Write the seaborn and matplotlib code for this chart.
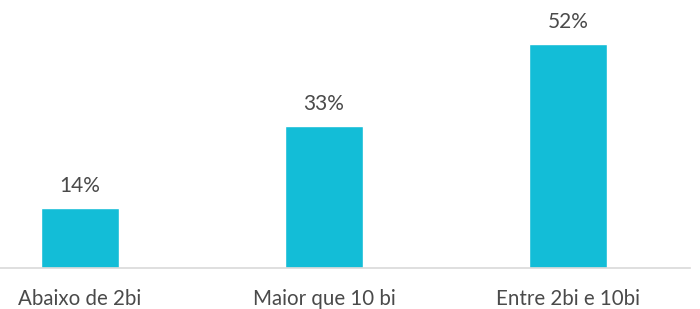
import numpy as np
import pandas as pd
import seaborn as sns
import matplotlib.pyplot as plt

categories = ['Abaixo de 2bi', 'Maior que 10 bi', 'Entre 2bi e 10bi']
values = [14, 33, 52]
labels = ['14%', '33%', '52%']

df = pd.DataFrame({'faixa': categories, 'pct': values})

sns.set_theme(style='white')
plt.rcParams['font.family'] = ['Lato', 'DejaVu Sans']

fig = plt.figure(figsize=(7, 3.09), dpi=100)
ax = fig.add_axes([0, 41 / 309, 690 / 700, (268 - 9.4) / 309])

sns.barplot(data=df, x='faixa', y='pct', color='#13BDD7', width=0.316,
            saturation=1, ax=ax)

for i, (v, lab) in enumerate(zip(values, labels)):
    ax.text(i, v + 5.0, lab, ha='center', va='center', fontsize=15, color='#4a4a4a')

ax.set_xlim(-0.328, 2.5)
ax.set_ylim(0, 60)
ax.set_xlabel('')
ax.set_ylabel('')
ax.set_yticks([])
for s in ['top', 'right', 'left']:
    ax.spines[s].set_visible(False)
ax.spines['bottom'].set_color('#d9d9d9')
ax.spines['bottom'].set_linewidth(1.2)
ax.tick_params(axis='x', length=0, pad=15, labelsize=14.8, labelcolor='#4a4a4a')

fig.savefig('out.png', dpi=100)
